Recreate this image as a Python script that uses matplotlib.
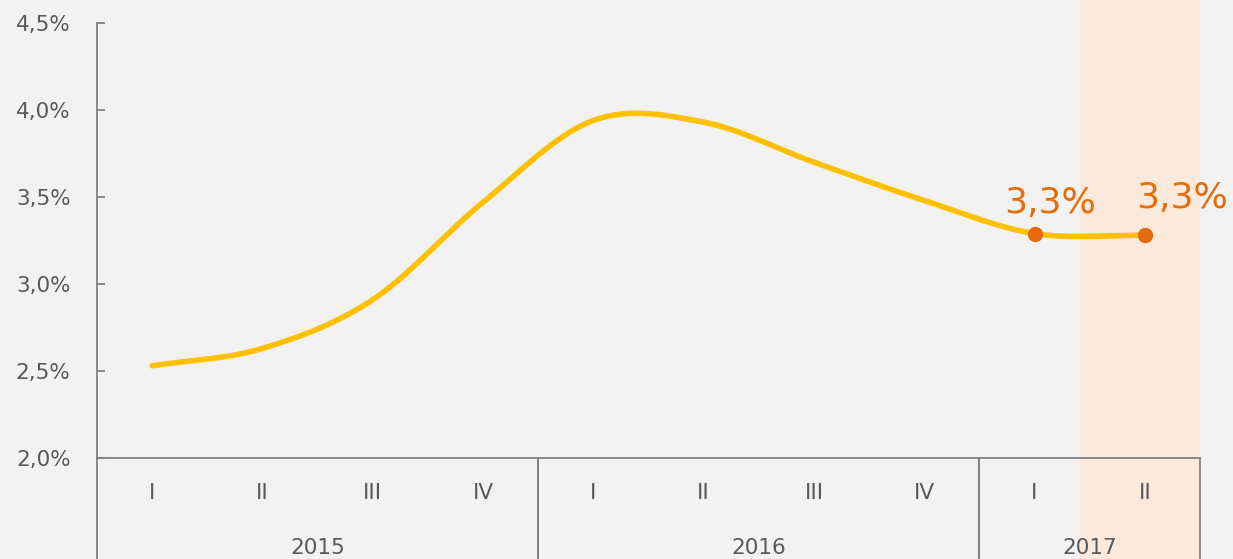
import numpy as np
import matplotlib.pyplot as plt
from matplotlib.patches import Rectangle
from matplotlib.ticker import FuncFormatter

# data
quarters = ['I', 'II', 'III', 'IV', 'I', 'II', 'III', 'IV', 'I', 'II']
years = ['2015', '2016', '2017']
year_spans = [(0, 4), (4, 8), (8, 10)]
values = [2.53, 2.63, 2.91, 3.47, 3.94, 3.93, 3.70, 3.48, 3.29, 3.28]
labelled = [8, 9]
label_texts = ['3,3%', '3,3%']

BG = '#f2f2f2'
LINE = '#ffc000'
ORANGE = '#e46c0a'
SHADE = '#fbe9dc'
GREY = '#595959'
AXIS = '#808080'


def catmull_rom(x, y, n=30):
    # smooth curve through the points, like the spreadsheet "smoothed line"
    x = np.asarray(x, float)
    y = np.asarray(y, float)
    xs, ys = [], []
    for i in range(len(x) - 1):
        p0 = i - 1 if i > 0 else i
        p3 = i + 2 if i + 2 < len(x) else i + 1
        m1 = (y[i + 1] - y[p0]) / (x[i + 1] - x[p0]) * (x[i + 1] - x[i])
        m2 = (y[p3] - y[i]) / (x[p3] - x[i]) * (x[i + 1] - x[i])
        t = np.linspace(0, 1, n, endpoint=False)
        h00 = 2 * t**3 - 3 * t**2 + 1
        h10 = t**3 - 2 * t**2 + t
        h01 = -2 * t**3 + 3 * t**2
        h11 = t**3 - t**2
        xs.append(x[i] + t * (x[i + 1] - x[i]))
        ys.append(h00 * y[i] + h10 * m1 + h01 * y[i + 1] + h11 * m2)
    xs.append([x[-1]])
    ys.append([y[-1]])
    return np.concatenate(xs), np.concatenate(ys)


plt.rcParams['font.family'] = ['DejaVu Sans']

fig = plt.figure(figsize=(12.33, 5.59), dpi=100, facecolor=BG)
ax = fig.add_axes([97 / 1233, 101 / 559, 1103 / 1233, 435 / 559])
ax.set_facecolor(BG)

xpos = np.arange(len(values)) + 0.5
ax.set_xlim(0, len(values))
ax.set_ylim(2.0, 4.5)

# shaded forecast column, reaching above and below the plot area
xtrans = ax.get_xaxis_transform()
ax.add_patch(Rectangle((8.91, -0.25), 10 - 8.91, 1.35, transform=xtrans,
                       facecolor=SHADE, edgecolor='none', clip_on=False, zorder=0))

sx, sy = catmull_rom(xpos, values)
ax.plot(sx, sy, color=LINE, lw=4, solid_capstyle='round', zorder=3)
ax.plot(xpos[labelled], np.array(values)[labelled], 'o', color=ORANGE, ms=10, zorder=4)

offsets = [(11, 22), (27, 27)]
for k, i in enumerate(labelled):
    ax.annotate(label_texts[k], (xpos[i], values[i]), xytext=offsets[k],
                textcoords='offset points', ha='center', va='center',
                color=ORANGE, fontsize=26, zorder=5)

# y axis
for s in ['top', 'right', 'bottom']:
    ax.spines[s].set_visible(False)
ax.spines['left'].set_color(AXIS)
ax.spines['left'].set_linewidth(1.3)
ax.spines['left'].set_bounds(2.0, 4.5)
ax.set_yticks(np.arange(2.0, 4.51, 0.5))
ax.yaxis.set_major_formatter(FuncFormatter(lambda v, p: f'{v:.1f}%'.replace('.', ',')))
ax.tick_params(axis='y', direction='in', length=6, width=1.3, color=AXIS,
               labelsize=15.5, labelcolor=GREY, pad=19)
ax.set_xticks([])

# category axis drawn by hand: baseline, group separators, labels
ax.plot([0, 10], [0, 0], transform=xtrans, color=AXIS, lw=1.3, clip_on=False, zorder=2)
for a, b in year_spans:
    for xe in (a, b):
        ax.plot([xe, xe], [0, -0.25], transform=xtrans, color=AXIS, lw=1.3,
                clip_on=False, zorder=2)
for x, q in zip(xpos, quarters):
    ax.text(x, -0.08, q, transform=xtrans, ha='center', va='center',
            fontsize=15.5, color=GREY)
for (a, b), yr in zip(year_spans, years):
    ax.text((a + b) / 2, -0.207, yr, transform=xtrans, ha='center', va='center',
            fontsize=15.5, color=GREY)

fig.savefig('out.png', dpi=100, facecolor=BG)
